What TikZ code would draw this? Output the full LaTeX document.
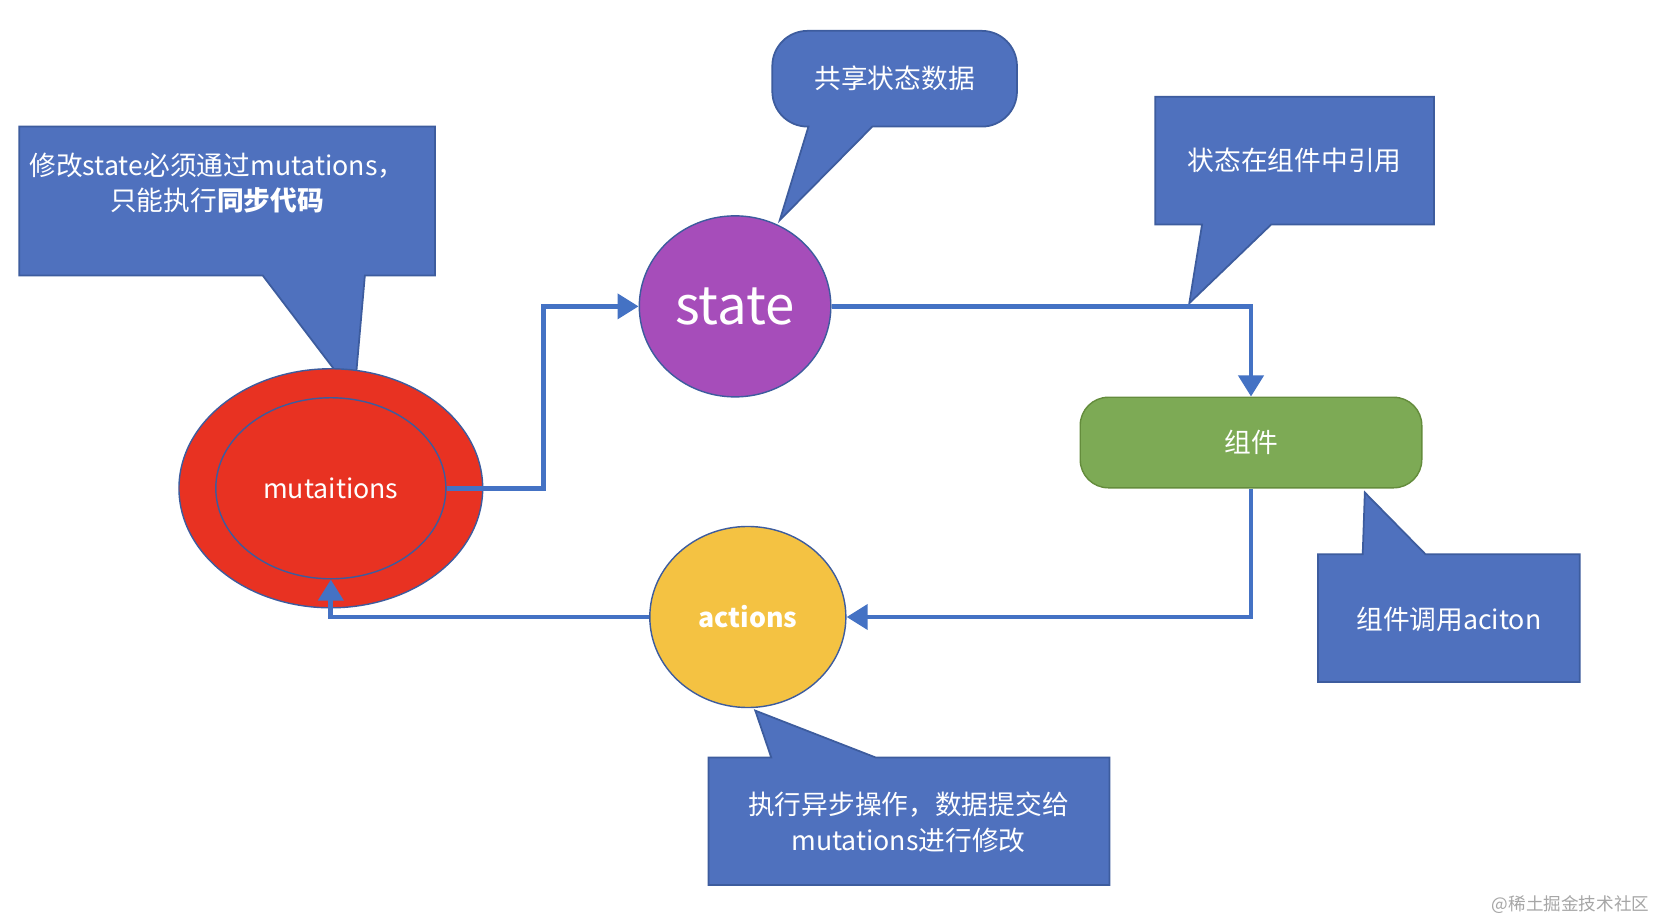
\documentclass[tikz,border=0pt]{standalone}
\usepackage{fontspec}
\setmainfont{Noto Sans CJK SC}
\usetikzlibrary{arrows.meta,shapes.geometric}
\definecolor{cbl}{HTML}{4F71BE}
\definecolor{cbd}{HTML}{3D5C9E}
\definecolor{arr}{HTML}{4472C4}
\begin{document}
\begin{tikzpicture}[x=0.01064cm,y=-0.01064cm,
  call/.style={fill=cbl,draw=cbd,line width=0.5pt},
  ctext/.style={text=white,font=\fontsize{7.6}{10}\selectfont,align=center},
  blob/.style={ellipse,draw=cbd,line width=0.4pt,text=white,inner sep=0pt},
  flow/.style={draw=arr,line width=1.4pt,-{Triangle[length=6pt,width=7pt]}}]
\useasboundingbox[fill=white] (0,0) rectangle (1568,865);
% callouts
\path[call] (18,119) -- (409,119) -- (409,259) -- (343,259) -- (333,372) -- (247,259) -- (18,259) -- cycle;
\node[ctext] (t1) at (204,172) {修改state必须通过mutations，\\只能执行\textbf{同步代码}};
\path[call,rounded corners=10] (726,29) -- (956,29) -- (956,119) [sharp corners]-- (820,119) -- (733,207) -- (760,119) [rounded corners=10]-- (726,119) -- cycle;
\node[ctext] (t2) at (841,74) {共享状态数据};
\path[call] (1086,91) -- (1348,91) -- (1348,211) -- (1195,211) -- (1118,285) -- (1130,211) -- (1086,211) -- cycle;
\node[ctext] (t3) at (1217,151) {状态在组件中引用};
\path[call] (1239,521) -- (1281,521) -- (1283,463) -- (1340,521) -- (1485,521) -- (1485,641) -- (1239,641) -- cycle;
\node[ctext] (t4) at (1362,582) {组件调用aciton};
\path[call] (666,712) -- (725,712) -- (710,668) -- (823,712) -- (1043,712) -- (1043,832) -- (666,832) -- cycle;
\node[ctext] (t5) at (854,773) {执行异步操作，数据提交给\\mutations进行修改};
% main nodes
\node[blob,fill={rgb,255:red,232;green,50;blue,34},minimum width=216\pgflinewidth,minimum height=170\pgflinewidth] (m) at (311,459) {};
\node[blob,fill={rgb,255:red,232;green,50;blue,34},minimum width=2.3cm,minimum height=1.81cm,font=\fontsize{7.6}{10}\selectfont] (mut) at (311,459) {mutaitions};
\node[blob,fill={rgb,255:red,166;green,77;blue,186},minimum width=1.915cm,minimum height=1.81cm,font=\fontsize{15}{18}\selectfont] (st) at (691,288) {state};
\node[blob,fill={rgb,255:red,244;green,194;blue,66},minimum width=1.96cm,minimum height=1.81cm,font=\bfseries\fontsize{7.6}{10}\selectfont] (ac) at (703,580) {actions};
\node[draw={rgb,255:red,100;green,140;blue,60},fill={rgb,255:red,125;green,170;blue,85},rounded corners=8,minimum width=3.415cm,minimum height=0.905cm,text=white,font=\fontsize{7.6}{10}\selectfont] (zj) at (1176,416) {组件};
% arrows
\draw[flow] (mut.east) -- (511,459) |- (st.west);
\draw[flow] (st.east) -| (zj.north);
\draw[flow] (zj.south) |- (ac.east);
\draw[flow] (ac.west) -| (mut.south);
\node[text=gray!70,font=\fontsize{5}{6}\selectfont,anchor=east] (wm) at (1562,850) {@稀土掘金技术社区};
\end{tikzpicture}
\end{document}
